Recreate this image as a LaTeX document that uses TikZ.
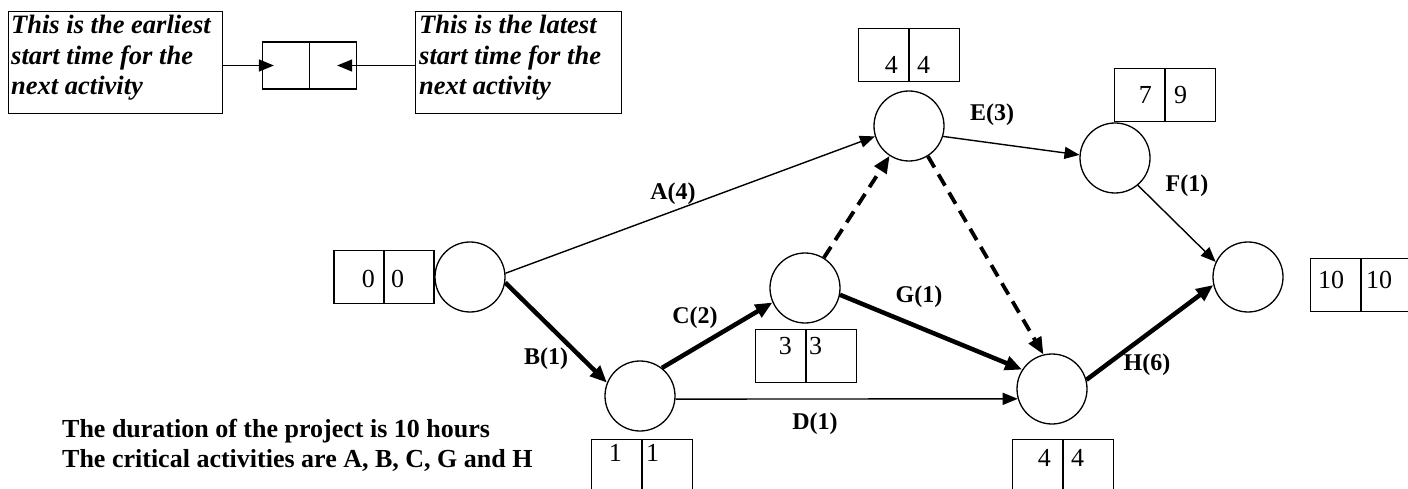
\documentclass[tikz,border=0pt]{standalone}
\usepackage{fontspec}
\setmainfont{Liberation Serif}
\usetikzlibrary{arrows.meta,calc}
\tikzset{
  ev/.style={circle, draw, line width=1.3pt, minimum size=70pt, inner sep=0pt},
  act/.style={line width=1.4pt, -{Triangle[length=15pt,width=12pt]}},
  crit/.style={line width=4.5pt, -{Triangle[length=17pt,width=14pt]}},
  dum/.style={line width=3.8pt, dash pattern=on 13pt off 8pt, -{Triangle[length=17pt,width=14pt]}},
  lbl/.style={font=\bfseries\fontsize{24}{28}\selectfont, inner sep=0pt},
  num/.style={font=\fontsize{26}{28}\selectfont, inner sep=0pt},
  cell/.style={draw, line width=1.3pt, minimum width=50pt, minimum height=53pt, inner sep=0pt},
  mcell/.style={draw, line width=1.3pt, minimum width=47pt, minimum height=47pt, inner sep=0pt},
  legbox/.style={draw, line width=1.3pt, anchor=north west, minimum height=102pt, inner sep=0pt},
  legtext/.style={anchor=north west, align=left, inner sep=0pt,
    font=\bfseries\itshape\fontsize{26.5}{30.5}\selectfont},
  note/.style={font=\bfseries\fontsize{26}{30}\selectfont, align=left, anchor=base west, inner sep=0pt},
}
\begin{document}
\begin{tikzpicture}[x=1pt,y=-1pt]
\useasboundingbox (0,0) rectangle (1408,489);
% legend
\node[legbox, minimum width=214pt] (LE) at (8,11) {};
\node[legtext] (LEt) at (11,15) {This is the earliest\\start time for the\\next activity};
\node[legbox, minimum width=206pt] (RE) at (415,11) {};
\node[legtext] (REt) at (419,15) {This is the latest\\start time for the\\next activity};
\node[mcell] (ML) at (286,65.5) {};
\node[mcell] (MR) at (333,65.5) {};
\coordinate (LT) at ([xshift=12pt]ML.west);
\coordinate (RT) at ([xshift=-20pt]MR.east);
\draw[act] (LE.east |- ML.center) -- (LT);
\draw[act] (RE.west |- MR.center) -- (RT);
% events
\node[ev] (N1) at (470,277) {};
\node[ev] (N2) at (640,396) {};
\node[ev] (N3) at (805,288) {};
\node[ev] (N4) at (909,126) {};
\node[ev] (N5) at (1115,158) {};
\node[ev] (N6) at (1248,277) {};
\node[ev] (N7) at (1052,389) {};
% time boxes
% 0 0
\node[cell] (B1l) at (359,277) {}; \node[cell] (B1r) at (409,277) {};
\node[num, anchor=base east] (B1a) at (375,287) {0};
\node[num, anchor=base west] (B1b) at (391,287) {0};
% 1 1
\node[cell, anchor=north east] (B2l) at (642,439) {}; \node[cell, anchor=north west] (B2r) at (642,439) {};
\node[num, anchor=base east] (B2a) at (622,461) {1};
\node[num, anchor=base west] (B2b) at (646,461) {1};
% 3 3
\node[cell, anchor=north east] (B3l) at (806,329) {}; \node[cell, anchor=north west] (B3r) at (806,329) {};
\node[num, anchor=base east] (B3a) at (792,354) {3};
\node[num, anchor=base west] (B3b) at (809,354) {3};
% 4 4 top
\node[cell, anchor=south east] (B4l) at (909,82) {}; \node[cell, anchor=south west] (B4r) at (909,82) {};
\node[num, anchor=base east] (B4a) at (898,74) {4};
\node[num, anchor=base west] (B4b) at (917,74) {4};
% 7 9
\node[cell, anchor=south east] (B5l) at (1165,122) {}; \node[cell, anchor=south west] (B5r) at (1165,122) {};
\node[num, anchor=base east] (B5a) at (1152,104) {7};
\node[num, anchor=base west] (B5b) at (1174,104) {9};
% 10 10
\node[cell, anchor=south east] (B6l) at (1361,312) {}; \node[cell, anchor=south west] (B6r) at (1361,312) {};
\node[num, anchor=base west] (B6a) at (1318,288) {10};
\node[num, anchor=base west] (B6b) at (1366,288) {10};
% 4 4 bottom
\node[cell, anchor=north east] (B7l) at (1063,439) {}; \node[cell, anchor=north west] (B7r) at (1063,439) {};
\node[num, anchor=base east] (B7a) at (1051,466) {4};
\node[num, anchor=base west] (B7b) at (1071,466) {4};
% activities
\draw[act] (N1.6) -- (N4.197);
\draw[crit] (N1.-9) -- (N2.158);
\draw[crit] (N2.52) -- (N3.204);
\draw[act] (N2.-5) -- (N7.196.6);
\draw[dum] (N3.58) -- (N4.237);
\draw[dum] (N4.-58) -- (N7.104);
\draw[act] (N4.-17) -- (N5.175);
\draw[act] (N5.-50) -- (N6.155);
\draw[crit] (N3.-11) -- (N7.147);
\draw[crit] (N7.15) -- (N6.193);
% labels
\node[lbl] (LA) at (673,194) {A(4)};
\node[lbl] (LB) at (546,359) {B(1)};
\node[lbl] (LC) at (695,318) {C(2)};
\node[lbl] (LD) at (815,424) {D(1)};
\node[lbl] (LEa) at (992,115) {E(3)};
\node[lbl] (LF) at (1187,186) {F(1)};
\node[lbl] (LG) at (919,297) {G(1)};
\node[lbl] (LH) at (1147,365) {H(6)};
% notes
\node[note] (T1) at (62,437) {The duration of the project is 10 hours};
\node[note] (T2) at (62,467) {The critical activities are A, B, C, G and H};
\end{tikzpicture}
\end{document}
